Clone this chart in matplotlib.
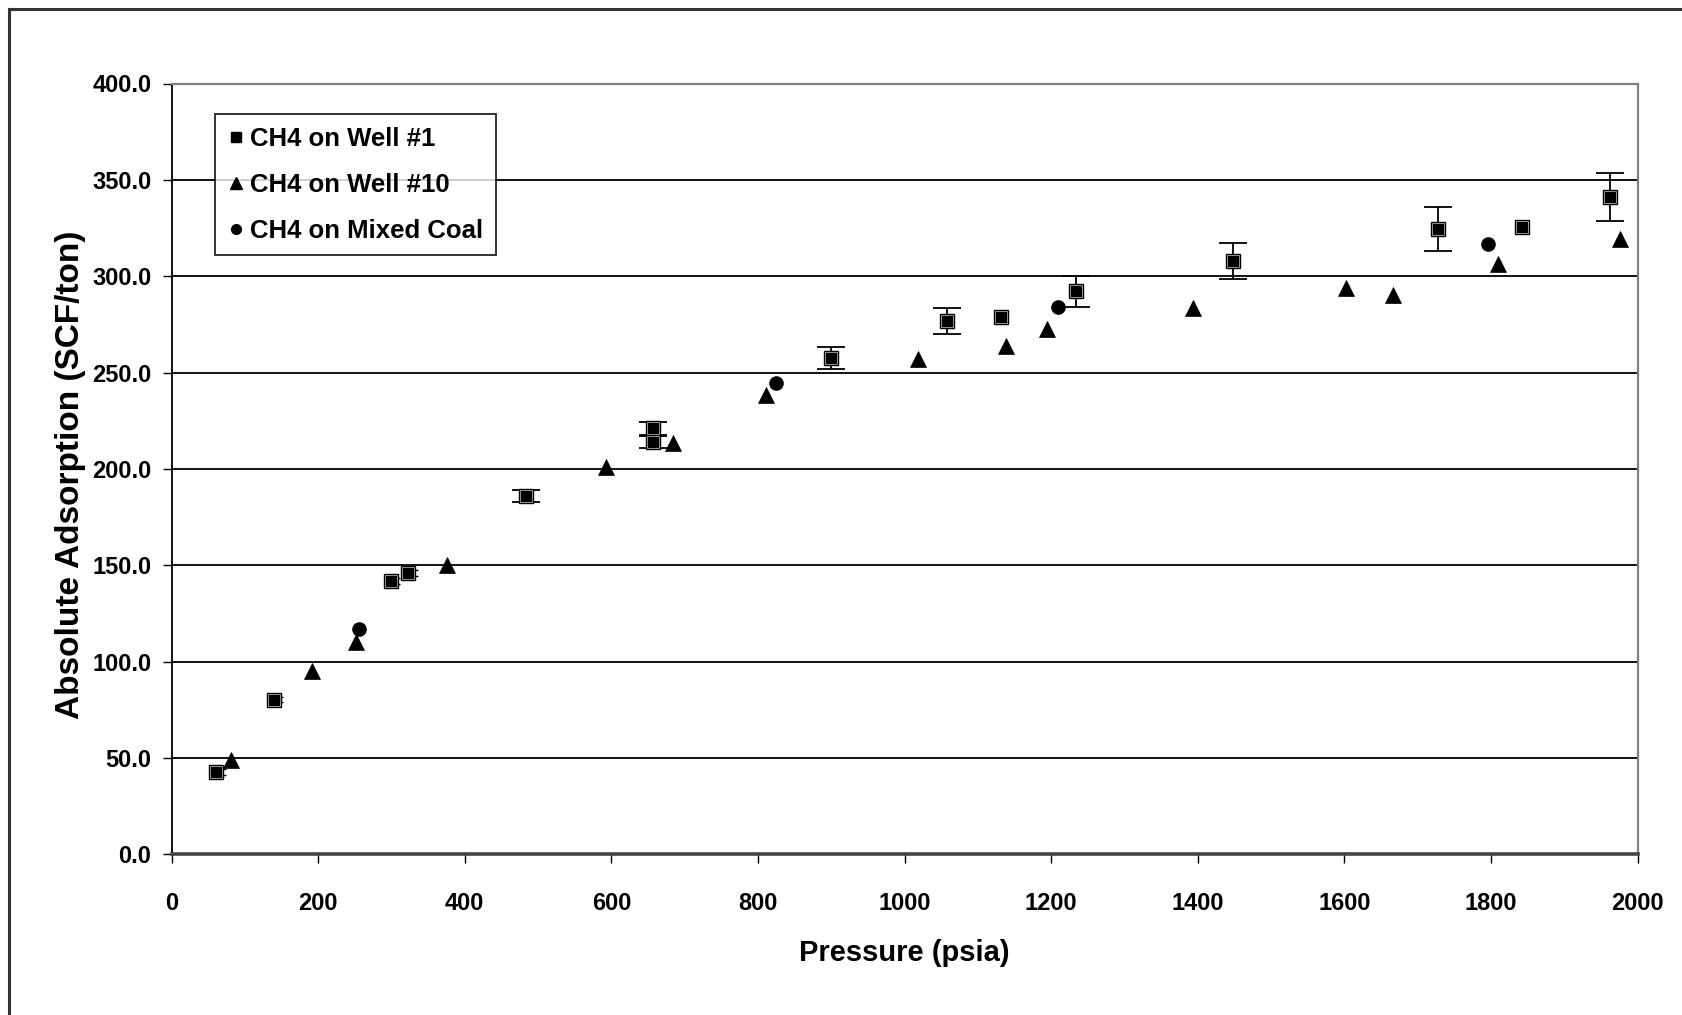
import numpy as np
import matplotlib
matplotlib.use("Agg")
import matplotlib.pyplot as plt
from matplotlib.lines import Line2D

plt.rcParams['font.family'] = ['Liberation Sans', 'DejaVu Sans']
plt.rcParams['font.weight'] = 'bold'

# CH4 on Well #1 (squares, with error bars)
well1_p = [61, 140, 299, 323, 484, 657, 657, 900, 1058, 1131, 1234, 1448, 1728, 1842, 1962]
well1_v = [42.8, 80.3, 142.0, 145.8, 185.8, 221.0, 214.0, 257.4, 276.9, 278.6, 292.2, 307.8, 324.5, 325.3, 340.9]
well1_err = [1.5, 1.5, 1.5, 1.5, 3.0, 3.5, 3.0, 5.8, 6.8, 0.0, 8.0, 9.2, 11.2, 0.0, 12.4]

# CH4 on Well #10 (triangles)
well10_p = [81, 192, 252, 376, 592, 684, 811, 1018, 1138, 1195, 1394, 1602, 1666, 1810, 1976]
well10_v = [48.8, 95.0, 110.0, 150.3, 200.8, 213.3, 238.5, 257.2, 263.8, 272.5, 283.4, 294.0, 290.3, 306.5, 319.2]

# CH4 on Mixed Coal (circles)
mixed_p = [255, 825, 1209, 1796]
mixed_v = [117.0, 244.5, 284.0, 316.8]

W, H = 1682, 1015
fig = plt.figure(figsize=(W / 100, H / 100), dpi=100)
ax = fig.add_axes([171.6 / W, 1 - 854.3 / H, (1637.5 - 171.6) / W, (854.3 - 83.5) / H])

# horizontal gridlines
for v in range(50, 400, 50):
    ax.axhline(v, color='black', lw=1.3, zorder=1)

# error bars: big ones get full caps, tiny ones hide behind the marker
p = np.array(well1_p)
v = np.array(well1_v)
e = np.array(well1_err)
big = e >= 2.5
small = (e > 0) & ~big
ax.errorbar(p[big], v[big], yerr=e[big], fmt='none', ecolor='black',
            elinewidth=1.3, capsize=10, capthick=1.3, zorder=2)
ax.errorbar(p[small] + 3, v[small], yerr=e[small], fmt='none', ecolor='black',
            elinewidth=1.0, capsize=5, capthick=1.0, zorder=2)
ax.plot(well1_p, well1_v, ls='none', marker='s', ms=9.5, mfc='black', mec='black', mew=1, zorder=3)
ax.plot(well1_p, well1_v, ls='none', marker='s', ms=8, mfc='none', mec='white', mew=0.4, zorder=4)
ax.plot(well10_p, well10_v, ls='none', marker='^', ms=11, mfc='black', mec='black', mew=0.5, zorder=3)
ax.plot(mixed_p, mixed_v, ls='none', marker='o', ms=9.5, mfc='black', mec='black', zorder=3)

ax.set_xlim(0, 2000)
ax.set_ylim(0, 400)
ax.set_xticks(np.arange(0, 2001, 200))
ax.set_yticks(np.arange(0, 401, 50))
ax.set_yticklabels(['%.1f' % t for t in np.arange(0, 401, 50)])

ax.tick_params(axis='x', direction='out', length=6.5, width=1, pad=21, labelsize=17)
ax.tick_params(axis='y', direction='out', length=6.5, width=1, pad=8, labelsize=17)
for lab in ax.get_xticklabels() + ax.get_yticklabels():
    lab.set_fontweight('bold')

ax.spines['left'].set_color('black')
ax.spines['left'].set_linewidth(1.3)
ax.spines['bottom'].set_color('#444444')
ax.spines['bottom'].set_linewidth(2.6)
ax.spines['top'].set_color('#808080')
ax.spines['top'].set_linewidth(1.6)
ax.spines['right'].set_color('#808080')
ax.spines['right'].set_linewidth(1.6)

fig.text(71 / W, 1 - 475 / H, 'Absolute Adsorption (SCF/ton)', rotation=90,
         ha='center', va='center', fontsize=24, fontweight='bold')
fig.text(904 / W, 1 - 953 / H, 'Pressure (psia)', ha='center', va='center',
         fontsize=21, fontweight='bold')

handles = [
    Line2D([], [], ls='none', marker='s', ms=7, mfc='black', mec='black'),
    Line2D([], [], ls='none', marker='^', ms=8, mfc='black', mec='black'),
    Line2D([], [], ls='none', marker='o', ms=7, mfc='black', mec='black'),
]
labels = ['CH4 on Well #1', 'CH4 on Well #10', 'CH4 on Mixed Coal']
leg = fig.legend(handles, labels, loc='upper left', bbox_to_anchor=(215 / W, 1 - 114 / H),
                 bbox_transform=fig.transFigure, borderaxespad=0, frameon=True, fancybox=False,
                 prop={'size': 18.5, 'weight': 'bold'}, handlelength=0.6, handletextpad=0.25,
                 labelspacing=0.85, borderpad=0.5)
leg.get_frame().set_edgecolor('black')
leg.get_frame().set_linewidth(1.4)
leg.set_zorder(10)

# outer chart frame (top and left edges visible)
fig.add_artist(Line2D([9 / W, 1], [1 - 9 / H, 1 - 9 / H], transform=fig.transFigure,
                      color='#333333', lw=2.2))
fig.add_artist(Line2D([9 / W, 9 / W], [0, 1 - 9 / H], transform=fig.transFigure,
                      color='#333333', lw=2.2))

fig.savefig('out.png', dpi=100)
